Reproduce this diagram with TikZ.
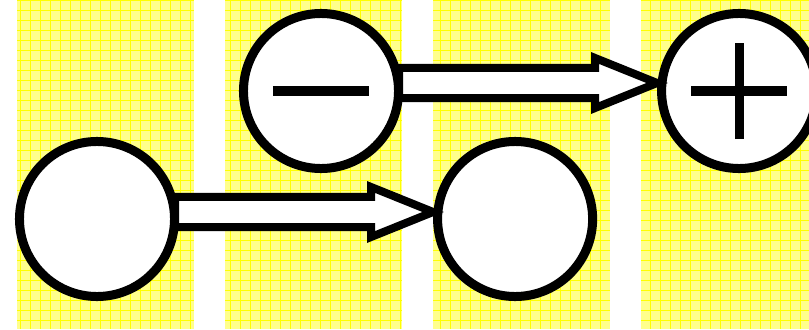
\documentclass[tikz,border=0pt]{standalone}
\usetikzlibrary{calc, positioning}
\definecolor{stripeYellow}{HTML}{FFFF8C}
\definecolor{gridYellow}{HTML}{FFFF00}
\tikzset{
    stripe/.style={fill=stripeYellow, draw=none},
    stripe grid/.style={draw=gridYellow, line width=0.5pt},
    ring node/.style={circle, draw=black, fill=white, line width=0.225cm, inner sep=0pt, minimum size=3.875cm},
    minus sign/.style={path picture={
        \draw[line width=0.225cm] ([xshift=-1.2cm]path picture bounding box.center) -- ([xshift=1.2cm]path picture bounding box.center);}},
    plus sign/.style={path picture={
        \draw[line width=0.225cm] ([xshift=-1.2cm]path picture bounding box.center) -- ([xshift=1.2cm]path picture bounding box.center);
        \draw[line width=0.225cm] ([yshift=-1.2cm]path picture bounding box.center) -- ([yshift=1.2cm]path picture bounding box.center);}},
    fat arrow/.style={draw=black, fill=white, line width=0.2cm, line join=miter,
        to path={let \p1=(\tikztostart), \p2=(\tikztotarget) in
            (\x1,\y1+0.375cm) -- (\x2-1.55cm,\y1+0.375cm) -- (\x2-1.55cm,\y1+0.625cm) -- (\x2,\y1)
            -- (\x2-1.55cm,\y1-0.625cm) -- (\x2-1.55cm,\y1-0.375cm) -- (\x1,\y1-0.375cm) -- cycle}},
}
\begin{document}
\begin{tikzpicture}[x=0.025cm, y=-0.025cm]
    \useasboundingbox (0,0) rectangle (809,329);
    % yellow columns
    \foreach \sx in {17,225,433,641} {
        \fill[stripe] (\sx,0) rectangle ({\sx+177},329);
        \draw[stripe grid, step=0.25cm] (\sx,0) grid ({\sx+177},329);
    }

    \node[ring node] (low) at (97,219) {};
    \node[ring node, right=6.35cm of low] (mid) {};
    \node[ring node, minus sign] (minus) at (321,91) {};
    \node[ring node, plus sign, right=6.35cm of minus] (plus) {};

    \draw[fat arrow] ([xshift=-0.1cm, yshift=0.175cm]low.east) to ([yshift=0.175cm]mid.west);
    \draw[fat arrow] ([xshift=-0.1cm, yshift=0.2cm]minus.east) to ([yshift=0.2cm]plus.west);
\end{tikzpicture}
\end{document}
